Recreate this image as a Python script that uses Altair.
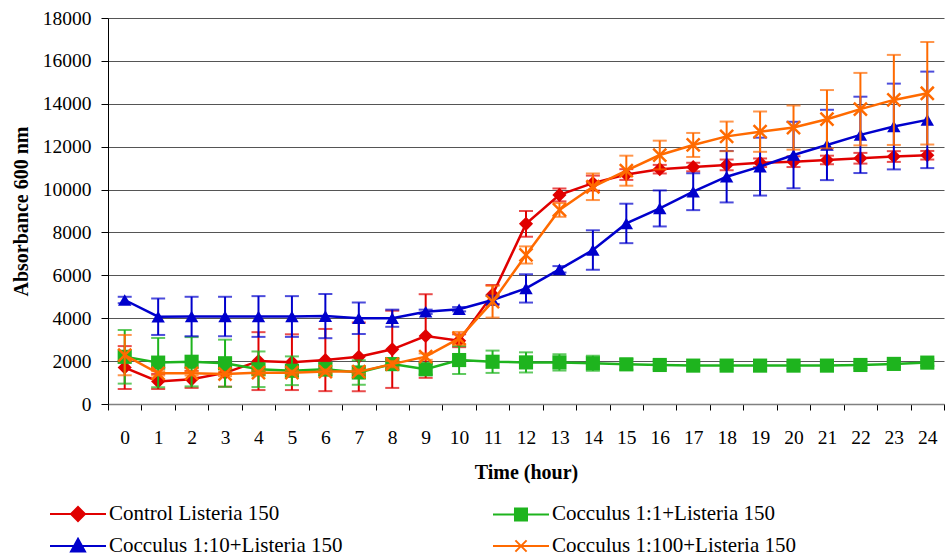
import altair as alt
import pandas as pd

hours = list(range(25))
series_names = ["Control Listeria 150", "Cocculus 1:1+Listeria 150",
                "Cocculus 1:10+Listeria 150", "Cocculus 1:100+Listeria 150"]

control = [1700, 1050, 1150, 1450, 2000, 1950, 2050, 2200, 2550, 3170, 2950, 5100, 8400,
           9750, 10300, 10700, 10950, 11050, 11150, 11250, 11300, 11380, 11460, 11540, 11600]
control_err = [1000, 350, 400, 640, 1350, 1300, 1450, 1600, 1800, 1950, 300, 450, 600,
               300, 350, 250, 200, 200, 250, 200, 250, 200, 250, 250, 200]

coc_1_1 = [2200, 1930, 1970, 1900, 1620, 1550, 1620, 1470, 1860, 1620, 2050, 1970, 1940,
           1940, 1900, 1850, 1820, 1790, 1790, 1790, 1790, 1790, 1820, 1870, 1930]
coc_1_1_err = [1250, 1150, 1150, 1100, 830, 670, 300, 570, 250, 250, 650, 520, 470,
               380, 350, 250, 200, 150, 150, 150, 150, 150, 150, 150, 150]

coc_1_10 = [4850, 4070, 4080, 4080, 4080, 4080, 4100, 4000, 4000, 4300, 4420, 4850, 5390,
            6280, 7180, 8420, 9120, 9900, 10600, 11070, 11610, 12080, 12550, 12940, 13250]
coc_1_10_err = [150, 850, 920, 920, 950, 950, 1030, 730, 400, 100, 100, 200, 660,
                150, 920, 920, 840, 860, 1200, 1350, 1550, 1640, 1780, 2000, 2250]

coc_1_100 = [2280, 1430, 1430, 1400, 1460, 1460, 1510, 1510, 1860, 2210, 3060, 4770, 6950,
             9050, 10130, 10880, 11610, 12080, 12480, 12700, 12890, 13280, 13750, 14180, 14490]
coc_1_100_err = [940, 100, 100, 100, 100, 100, 100, 100, 150, 150, 300, 740, 400,
                 320, 620, 700, 670, 560, 690, 940, 1030, 1360, 1690, 2100, 2390]

colors = ["#E00000", "#1EB41E", "#0000CC", "#FF6A00"]
shapes = ["diamond", "square", "triangle-up", "M-1,-1L1,1M-1,1L1,-1"]
marker_sizes = [200, 200, 180, 170]
# legend symbols: a line through the series marker (unit = half of sqrt(symbolSize))
legend_paths = [
    "M-2,0H2M-0.5,0L0,-0.5L0.5,0L0,0.5Z",
    "M-2,0H2M-0.43,-0.43H0.43V0.43H-0.43Z",
    "M-2,0H2M0,-0.52L0.5,0.4H-0.5Z",
    "M-2,0H2M-0.4,-0.4L0.4,0.4M-0.4,0.4L0.4,-0.4",
]

all_values = [control, coc_1_1, coc_1_10, coc_1_100]
all_errs = [control_err, coc_1_1_err, coc_1_10_err, coc_1_100_err]

rows = []
for name, vals, errs in zip(series_names, all_values, all_errs):
    for h, v, e in zip(hours, vals, errs):
        rows.append({"hour": h, "series": name, "value": v, "lo": v - e, "hi": v + e})
df = pd.DataFrame(rows)

FONT = "Liberation Serif"
x_ticks = [h - 0.5 for h in hours] + [hours[-1] + 0.5] + hours
x_enc = alt.X("hour:Q",
              scale=alt.Scale(domain=[-0.5, 24.5], nice=False, zero=False),
              axis=alt.Axis(values=sorted(x_ticks), grid=False, title="Time (hour)",
                            labelExpr="datum.value % 1 === 0 ? datum.value : ''",
                            tickColor={"condition": {"test": "datum.value % 1 === 0", "value": "transparent"},
                                       "value": "#000000"},
                            labelOverlap=False, labelFlush=False, labelBound=False,
                            tickSize=6, labelPadding=18, titlePadding=16,
                            domainColor="#808080", domainWidth=1.5))
y_axis = alt.Axis(values=list(range(0, 18001, 2000)), format="d", title="Absorbance 600 nm",
                  grid=True, gridColor="#555555", gridWidth=1, tickSize=7, labelPadding=10,
                  tickColor="#000000", domainColor="#000000", titlePadding=11)
y_scale = alt.Scale(domain=[0, 18000], nice=False)

layers = []
for name, c, shp, ms in zip(series_names, colors, shapes, marker_sizes):
    base = alt.Chart(df).transform_filter(alt.datum.series == name)
    layers.append(base.mark_rule(color=c, strokeWidth=2).encode(
        x=x_enc, y=alt.Y("lo:Q", scale=y_scale, axis=y_axis), y2="hi:Q"))
    layers.append(base.mark_tick(color=c, orient="horizontal", size=14, thickness=2).encode(
        x=x_enc, y=alt.Y("lo:Q", scale=y_scale, axis=y_axis)))
    layers.append(base.mark_tick(color=c, orient="horizontal", size=14, thickness=2).encode(
        x=x_enc, y=alt.Y("hi:Q", scale=y_scale, axis=y_axis)))
    layers.append(base.mark_line(color=c, strokeWidth=2.5).encode(
        x=x_enc, y=alt.Y("value:Q", scale=y_scale, axis=y_axis)))
    if shp.startswith("M"):
        pt = base.mark_point(shape=shp, size=ms, filled=False, color=c, strokeWidth=2.5, opacity=1)
    else:
        pt = base.mark_point(shape=shp, size=ms, filled=True, color=c, opacity=1)
    layers.append(pt.encode(x=x_enc, y=alt.Y("value:Q", scale=y_scale, axis=y_axis)))

legend = alt.Legend(orient="none", legendX=-45, legendY=481, columns=2, columnPadding=146,
                    direction="horizontal",
                    title=None, labelFont=FONT, labelFontSize=21, labelColor="#000000",
                    symbolSize=784, symbolStrokeWidth=2, labelOffset=16, rowPadding=6,
                    labelLimit=400)
leg_layer = alt.Chart(df).transform_filter("false").mark_point(filled=True, size=784, opacity=1).encode(
    x=x_enc, y=alt.Y("value:Q", scale=y_scale, axis=y_axis),
    color=alt.Color("series:N", scale=alt.Scale(domain=series_names, range=colors), legend=legend),
    stroke=alt.Stroke("series:N", scale=alt.Scale(domain=series_names, range=colors), legend=legend),
    shape=alt.Shape("series:N", scale=alt.Scale(domain=series_names, range=legend_paths), legend=legend),
)
layers.append(leg_layer)

chart = alt.layer(*layers).properties(
    width=836, height=386, autosize="none",
    padding={"left": 108, "top": 18, "right": 1, "bottom": 152},
    background="#ffffff",
).configure_view(stroke=None).configure_axis(
    labelFont=FONT, labelFontSize=19.5, labelColor="#000000",
    titleFont=FONT, titleFontSize=20, titleFontWeight="bold", titleColor="#000000",
).configure_legend(
    labelFont=FONT, labelFontSize=21, labelColor="#000000",
)

chart.save("out.html", embed_options={"renderer": "svg", "actions": False})
